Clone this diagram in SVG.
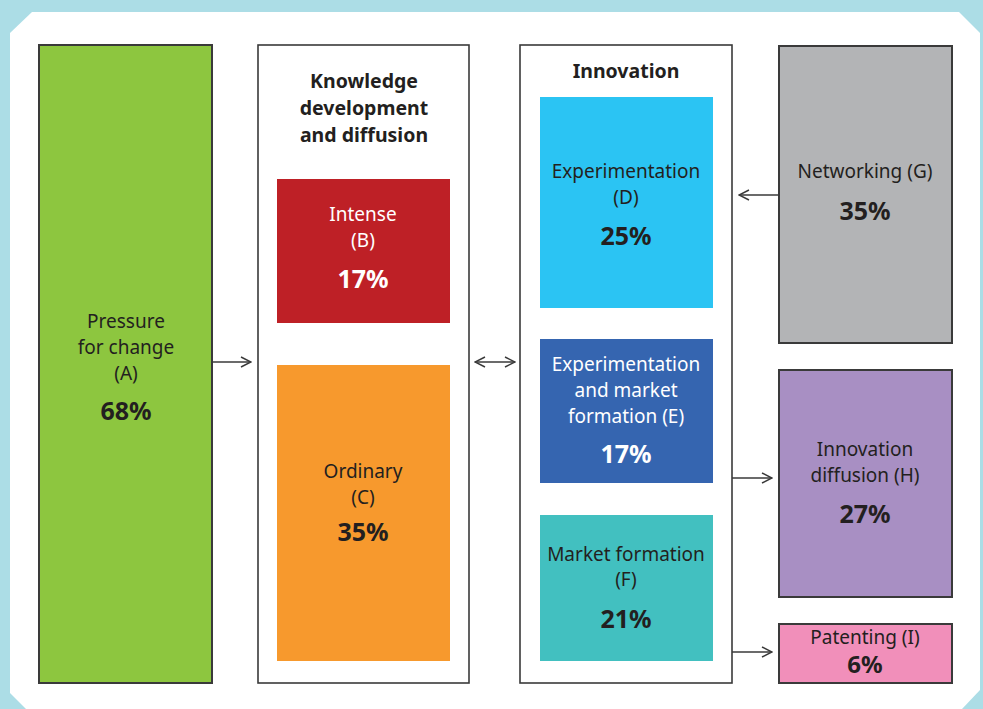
<svg xmlns="http://www.w3.org/2000/svg" width="983" height="709" viewBox="0 0 983 709">
  <defs>
    <style>
      .box { stroke: #3a3a3a; stroke-width: 2; }
      .panel { fill: #ffffff; stroke: #3a3a3a; stroke-width: 1.6; }
      .t { font-family: "Noto Sans", "Open Sans", sans-serif; font-size: 19px; text-anchor: middle; fill: #231f20; }
      .pct { font-family: "Noto Sans", "Open Sans", sans-serif; font-size: 25px; font-weight: bold; text-anchor: middle; fill: #231f20; }
      .head { font-family: "Noto Sans", "Open Sans", sans-serif; font-size: 19.5px; font-weight: bold; text-anchor: middle; fill: #231f20; }
      text.w { fill: #ffffff; }
      .conn { stroke: #3a3a3a; stroke-width: 1.6; fill: none; }
    </style>
    <marker id="arrow" viewBox="0 0 12 12" refX="11" refY="6" markerWidth="12" markerHeight="12" markerUnits="userSpaceOnUse" orient="auto-start-reverse">
      <path d="M1,1 L11,6 L1,11" fill="none" stroke="#3a3a3a" stroke-width="1.5"/>
    </marker>
  </defs>

  <!-- frame -->
  <rect x="0" y="0" width="983" height="709" fill="#acdde6"/>
  <polygon points="32,12 959,12 980,33 980,690 962,709 26,709 10,693 10,33" fill="#ffffff"/>

  <!-- A -->
  <g id="pressure">
    <rect class="box" x="39" y="45" width="173" height="638" fill="#8dc63f"/>
    <text class="t" x="126" y="328">Pressure</text>
    <text class="t" x="126" y="354">for change</text>
    <text class="t" x="126" y="380">(A)</text>
    <text class="pct" x="126" y="420">68%</text>
  </g>

  <!-- knowledge panel -->
  <g id="knowledge">
    <rect class="panel" x="258" y="45" width="211" height="638"/>
    <text class="head" x="364" y="88">Knowledge</text>
    <text class="head" x="364" y="115">development</text>
    <text class="head" x="364" y="142">and diffusion</text>
  </g>
  <g id="intense">
    <rect x="277" y="179" width="173" height="144" fill="#be2026"/>
    <text class="t w" x="363" y="221">Intense</text>
    <text class="t w" x="363" y="247">(B)</text>
    <text class="pct w" x="363" y="288">17%</text>
  </g>
  <g id="ordinary">
    <rect x="277" y="365" width="173" height="296" fill="#f7992d"/>
    <text class="t" x="363" y="478">Ordinary</text>
    <text class="t" x="363" y="504">(C)</text>
    <text class="pct" x="363" y="541">35%</text>
  </g>

  <!-- innovation panel -->
  <g id="innovation">
    <rect class="panel" x="520" y="45" width="212" height="638"/>
    <text class="head" x="626" y="78">Innovation</text>
  </g>
  <g id="experimentation">
    <rect x="540" y="97" width="173" height="211" fill="#2bc4f3"/>
    <text class="t" x="626" y="178">Experimentation</text>
    <text class="t" x="626" y="204">(D)</text>
    <text class="pct" x="626" y="245">25%</text>
  </g>
  <g id="exp-market">
    <rect x="540" y="339" width="173" height="144" fill="#3565b0"/>
    <text class="t w" x="626" y="371">Experimentation</text>
    <text class="t w" x="626" y="397">and market</text>
    <text class="t w" x="626" y="423">formation (E)</text>
    <text class="pct w" x="626" y="463">17%</text>
  </g>
  <g id="market">
    <rect x="540" y="515" width="173" height="146" fill="#42c0c0"/>
    <text class="t" x="626" y="561">Market formation</text>
    <text class="t" x="626" y="586">(F)</text>
    <text class="pct" x="626" y="628">21%</text>
  </g>

  <!-- right column -->
  <g id="networking">
    <rect class="box" x="779" y="46" width="173" height="297" fill="#b3b4b6"/>
    <text class="t" x="865" y="178">Networking (G)</text>
    <text class="pct" x="865" y="220">35%</text>
  </g>
  <g id="diffusion">
    <rect class="box" x="779" y="370" width="173" height="227" fill="#a88fc3"/>
    <text class="t" x="865" y="456">Innovation</text>
    <text class="t" x="865" y="482">diffusion (H)</text>
    <text class="pct" x="865" y="523">27%</text>
  </g>
  <g id="patenting">
    <rect class="box" x="779" y="624" width="173" height="59" fill="#f18fba"/>
    <text class="t" x="865" y="644">Patenting (I)</text>
    <text class="pct" x="865" y="673" style="font-size:24px">6%</text>
  </g>

  <!-- connectors -->
  <g id="connectors">
    <line class="conn" x1="212" y1="362" x2="251" y2="362" marker-end="url(#arrow)"/>
    <line class="conn" x1="475" y1="362" x2="515" y2="362" marker-start="url(#arrow)" marker-end="url(#arrow)"/>
    <line class="conn" x1="779" y1="195" x2="739" y2="195" marker-end="url(#arrow)"/>
    <line class="conn" x1="732" y1="478" x2="772" y2="478" marker-end="url(#arrow)"/>
    <line class="conn" x1="732" y1="652" x2="772" y2="652" marker-end="url(#arrow)"/>
  </g>
</svg>
